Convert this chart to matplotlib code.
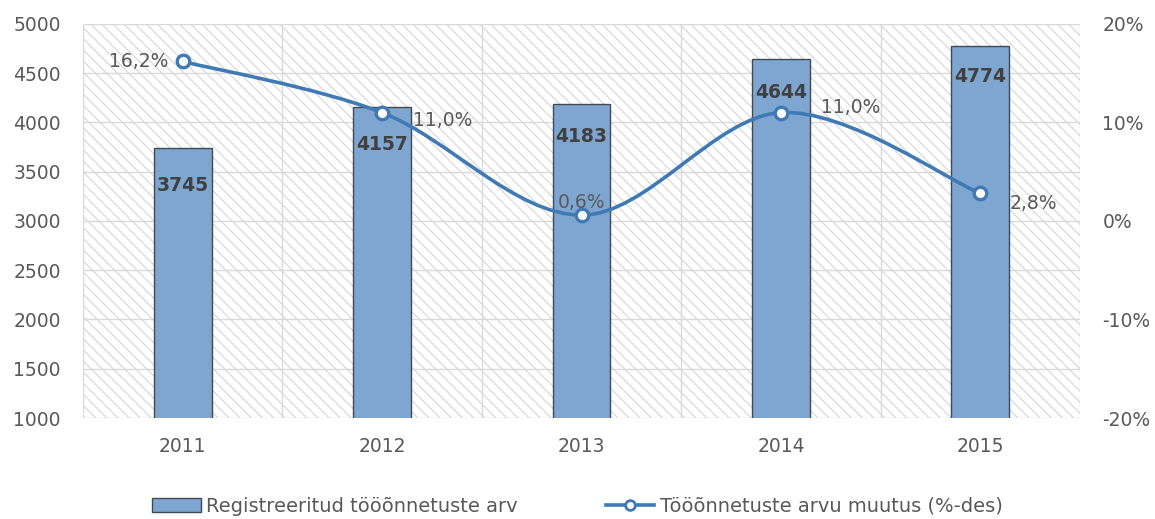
import matplotlib
matplotlib.use("Agg")
import matplotlib.pyplot as plt
from matplotlib.path import Path
from matplotlib.patches import PathPatch, Rectangle
from matplotlib.lines import Line2D
from matplotlib.patches import Patch

# Data
years = ["2011", "2012", "2013", "2014", "2015"]
accidents = [3745, 4157, 4183, 4644, 4774]
change_pct = [16.2, 11.0, 0.6, 11.0, 2.8]
change_labels = ["16,2%", "11,0%", "0,6%", "11,0%", "2,8%"]
left_ticks = [1000, 1500, 2000, 2500, 3000, 3500, 4000, 4500, 5000]
right_ticks = [-20, -10, 0, 10, 20]

# Styling
BAR_COLOR = "#7fa6d1"
BAR_EDGE = "#3f4a55"
LINE_COLOR = "#3f7ab5"
TEXT_COLOR = "#595959"
GRID_COLOR = "#d9d9d9"
HATCH_COLOR = "#d6d6d6"
FS = 13.5

plt.rcParams["font.family"] = ["DejaVu Sans"]
plt.rcParams["hatch.linewidth"] = 0.8

fig = plt.figure(figsize=(11.55, 5.19), dpi=100)
ax = fig.add_axes([0.0719, 0.1946, 0.8632, 0.7592])
ax2 = ax.twinx()

x = list(range(len(years)))

# Hatched plot background
ax.add_patch(Rectangle((0, 0), 1, 1, transform=ax.transAxes, facecolor="white",
                       edgecolor=HATCH_COLOR, linewidth=0, hatch="\\\\\\", zorder=0))

ax.set_xlim(-0.5, len(years) - 0.5)
ax.set_ylim(1000, 5000)
ax.set_yticks(left_ticks)
ax.set_xticks(x)
ax.set_xticklabels(years)
ax.set_xticks([i + 0.5 for i in range(-1, len(years))], minor=True)
ax.grid(True, which="major", axis="y", color=GRID_COLOR, linewidth=1, zorder=1)
ax.grid(True, which="minor", axis="x", color=GRID_COLOR, linewidth=1, zorder=1)
ax.set_axisbelow(True)

bars = ax.bar(x, accidents, width=0.29, color=BAR_COLOR, edgecolor=BAR_EDGE,
              linewidth=1, zorder=3)

# Value labels inside bars (offset below the bar top, in points)
bar_label_offsets = [-27, -27, -23, -24, -22]
for xi, v, off in zip(x, accidents, bar_label_offsets):
    ax.annotate(str(v), (xi, v), xytext=(0, off), textcoords="offset points",
                ha="center", va="center", fontsize=FS, fontweight="bold",
                color="#404040", zorder=5)

for a in (ax, ax2):
    for s in a.spines.values():
        s.set_visible(False)
    a.tick_params(which="both", length=0, colors=TEXT_COLOR, labelsize=FS)

ax.tick_params(axis="y", pad=16)
ax.tick_params(axis="x", pad=14)

ax2.set_ylim(-20, 20)
ax2.set_yticks(right_ticks)
ax2.set_yticklabels([f"{t}%" for t in right_ticks])
ax2.tick_params(axis="y", pad=16)

# Smoothed line through the percentage points (Catmull-Rom as cubic Bezier)
pts = list(zip(x, change_pct))
verts = [pts[0]]
codes = [Path.MOVETO]
n = len(pts)
for i in range(n - 1):
    p0 = pts[i - 1] if i > 0 else pts[i]
    p1 = pts[i]
    p2 = pts[i + 1]
    p3 = pts[i + 2] if i + 2 < n else pts[i + 1]
    c1 = (p1[0] + (p2[0] - p0[0]) / 6, p1[1] + (p2[1] - p0[1]) / 6)
    c2 = (p2[0] - (p3[0] - p1[0]) / 6, p2[1] - (p3[1] - p1[1]) / 6)
    verts += [c1, c2, p2]
    codes += [Path.CURVE4] * 3
ax2.add_patch(PathPatch(Path(verts, codes), facecolor="none", edgecolor=LINE_COLOR,
                        linewidth=2.6, zorder=4, capstyle="round"))
ax2.plot(x, change_pct, linestyle="none", marker="o", markersize=9,
         markerfacecolor="white", markeredgecolor=LINE_COLOR, markeredgewidth=2.4,
         zorder=6)

# Percentage labels
pct_label_pos = [(-10, 0, "right"), (22, -6, "left"), (0, 9, "center"),
                 (29, 4, "left"), (21, -7, "left")]
for xi, v, lab, (dx, dy, ha) in zip(x, change_pct, change_labels, pct_label_pos):
    ax2.annotate(lab, (xi, v), xytext=(dx, dy), textcoords="offset points",
                 ha=ha, va="center", fontsize=FS, color=TEXT_COLOR, zorder=7)

# Legend
handles = [
    Patch(facecolor=BAR_COLOR, edgecolor=BAR_EDGE, linewidth=1),
    Line2D([0], [0], color=LINE_COLOR, linewidth=2.6, marker="o", markersize=7,
           markerfacecolor="white", markeredgecolor=LINE_COLOR, markeredgewidth=2),
]
labels = ["Registreeritud tööõnnetuste arv", "Tööõnnetuste arvu muutus (%-des)"]
fig.legend(handles, labels, loc="center", bbox_to_anchor=(0.5, 0.025), ncol=2,
           frameon=False, fontsize=14, labelcolor=TEXT_COLOR, columnspacing=4.5,
           handlelength=2.5, handletextpad=0.3)

fig.savefig("out.png", dpi=100)
